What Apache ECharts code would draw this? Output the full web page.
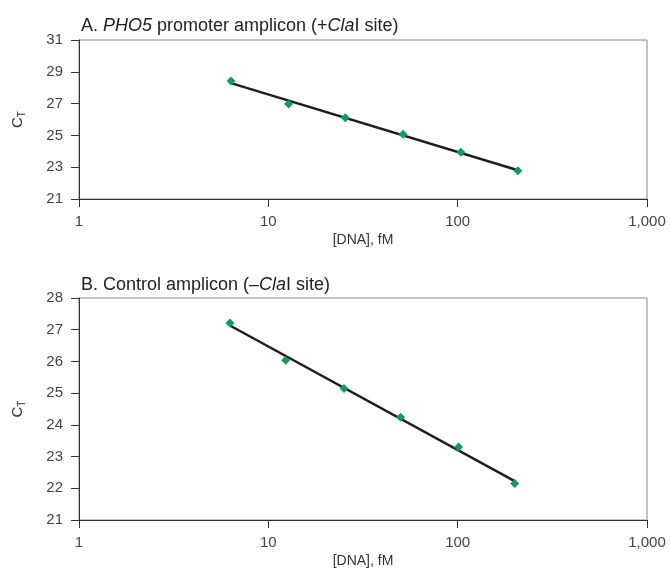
<!DOCTYPE html>
<html>
<head>
<meta charset="utf-8">
<script src="https://cdn.jsdelivr.net/npm/echarts@6/dist/echarts.min.js"></script>
<style>
  html, body { margin: 0; padding: 0; background: #fff; }
  #chart { width: 670px; height: 569px; }
</style>
</head>
<body>
<div id="chart"></div>
<script>
// panel A: PHO5 promoter amplicon
var dnaA = [6.35, 12.8, 25.5, 51.5, 104, 208];
var ctA = [28.42, 26.97, 26.11, 25.07, 23.94, 22.78];
// panel B: control amplicon
var dnaB = [6.27, 12.35, 25.1, 50, 101, 200];
var ctB = [27.21, 26.04, 25.15, 24.24, 23.30, 22.15];

var fontName = 'Liberation Sans';
var green = '#0f9d5a';

// least squares fit of ct vs log10(dna), returned as the two end points
function fitLine(xs, ys) {
    var n = xs.length, sx = 0, sy = 0, sxx = 0, sxy = 0;
    for (var i = 0; i < n; i++) {
        var lx = Math.log10(xs[i]);
        sx += lx; sy += ys[i]; sxx += lx * lx; sxy += lx * ys[i];
    }
    var b = (n * sxy - sx * sy) / (n * sxx - sx * sx);
    var a = (sy - b * sx) / n;
    var x0 = xs[0], x1 = xs[n - 1];
    return [[x0, a + b * Math.log10(x0)], [x1, a + b * Math.log10(x1)]];
}

function pairs(xs, ys) {
    return xs.map(function (x, i) { return [x, ys[i]]; });
}

var titleRich = {
    n: { fontFamily: fontName, fontSize: 18, fontWeight: 'normal', color: '#222' },
    i: { fontFamily: fontName, fontSize: 18, fontWeight: 'normal', color: '#222', fontStyle: 'italic' }
};

function xAxisOpt(idx) {
    return {
        gridIndex: idx,
        type: 'log',
        logBase: 10,
        min: 1,
        max: 1000,
        name: '[DNA], fM',
        nameLocation: 'middle',
        nameGap: 34,
        nameTextStyle: { fontFamily: fontName, fontSize: 14, color: '#333' },
        axisLine: { lineStyle: { color: '#333', width: 1 } },
        axisTick: { show: true, inside: false, length: 8, lineStyle: { color: '#333' } },
        minorTick: { show: false },
        splitLine: { show: false },
        axisLabel: {
            margin: 15,
            fontFamily: fontName,
            fontSize: 15,
            color: '#444',
            formatter: function (v) { return Math.round(v).toLocaleString('en-US'); }
        }
    };
}

function yAxisOpt(idx, mn, mx, step) {
    return {
        gridIndex: idx,
        type: 'value',
        min: mn,
        max: mx,
        interval: step,
        name: '{c|C}{t|T}',
        nameLocation: 'middle',
        nameRotate: 90,
        nameGap: 52,
        nameTextStyle: {
            rich: {
                c: { fontFamily: fontName, fontSize: 15, color: '#333', lineHeight: 18 },
                t: { fontFamily: fontName, fontSize: 10, color: '#333', lineHeight: 10, verticalAlign: 'bottom' }
            }
        },
        axisLine: { show: true, lineStyle: { color: '#333', width: 1 } },
        axisTick: { show: true, inside: false, length: 8, lineStyle: { color: '#333' } },
        splitLine: { show: false },
        axisLabel: { margin: 16, fontFamily: fontName, fontSize: 15, color: '#444' }
    };
}

var option = {
    animation: false,
    backgroundColor: '#fff',
    title: [
        {
            text: '{n|A. }{i|PHO5}{n| promoter amplicon (+}{i|Cla}{n|I site)}',
            left: 76, top: 12,
            textStyle: { fontWeight: 'normal', rich: titleRich }
        },
        {
            text: '{n|B. Control amplicon (–}{i|Cla}{n|I site)}',
            left: 76, top: 271,
            textStyle: { fontWeight: 'normal', rich: titleRich }
        }
    ],
    grid: [
        { left: 79, right: 23, top: 40, height: 159, show: true, borderColor: '#888', borderWidth: 1 },
        { left: 79, right: 23, top: 298, height: 223, show: true, borderColor: '#888', borderWidth: 1 }
    ],
    xAxis: [xAxisOpt(0), xAxisOpt(1)],
    yAxis: [yAxisOpt(0, 21, 31, 2), yAxisOpt(1, 21, 28, 1)],
    series: [
        {
            type: 'line', xAxisIndex: 0, yAxisIndex: 0,
            data: fitLine(dnaA, ctA), symbol: 'none',
            lineStyle: { color: '#1e1e1e', width: 2.5 }, z: 2
        },
        {
            type: 'scatter', xAxisIndex: 0, yAxisIndex: 0,
            data: pairs(dnaA, ctA), symbol: 'diamond', symbolSize: 9,
            itemStyle: { color: green, opacity: 1 }, z: 3
        },
        {
            type: 'line', xAxisIndex: 1, yAxisIndex: 1,
            data: fitLine(dnaB, ctB), symbol: 'none',
            lineStyle: { color: '#1e1e1e', width: 2.5 }, z: 2
        },
        {
            type: 'scatter', xAxisIndex: 1, yAxisIndex: 1,
            data: pairs(dnaB, ctB), symbol: 'diamond', symbolSize: 9,
            itemStyle: { color: green, opacity: 1 }, z: 3
        }
    ]
};

var chart = echarts.init(document.getElementById('chart'));
chart.setOption(option);
</script>
</body>
</html>
